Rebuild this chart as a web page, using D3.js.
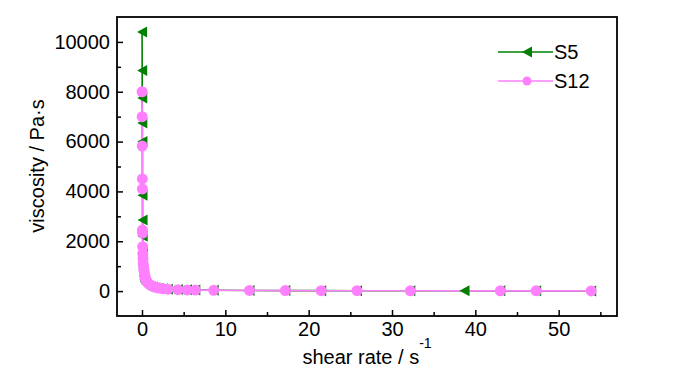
<!DOCTYPE html>
<html>
<head>
<meta charset="utf-8">
<script src="https://cdn.jsdelivr.net/npm/d3@7"></script>
<style>
  body { margin: 0; background: #fff; }
  text { font-family: "Liberation Sans", Arial, sans-serif; }
</style>
</head>
<body>
<script>
// shear rate (1/s) and viscosity (Pa·s)
var s5Rate = [0.01, 0.02, 0.03, 0.04, 0.05, 0.06, 0.07, 0.08, 0.1, 0.12, 0.15, 0.2, 0.25, 0.3, 0.4, 0.5, 0.7, 1.0, 1.3, 1.6, 2.0, 2.5, 3.1, 4.3, 5.4, 6.4, 8.6, 12.9, 17.2, 21.5, 25.8, 32.2, 38.7, 43.0, 47.3, 53.9];
var s5Visc = [10400, 8850, 7750, 6750, 6000, 3850, 2850, 2200, 1580, 1180, 840, 600, 480, 400, 330, 280, 230, 190, 160, 130, 110, 90, 78, 62, 50, 42, 34, 25, 20, 17, 15, 13, 11, 10, 9, 8];

var s12Rate = [0.01, 0.02, 0.03, 0.04, 0.05, 0.06, 0.07, 0.08, 0.1, 0.12, 0.15, 0.2, 0.25, 0.3, 0.35, 0.4, 0.5, 0.6, 0.8, 1.0, 1.3, 1.6, 2.0, 2.5, 3.1, 4.3, 5.4, 6.4, 8.6, 12.9, 17.2, 21.5, 25.8, 32.2, 43.0, 47.3, 53.9];
var s12Visc = [8000, 7000, 5820, 4500, 4100, 2450, 2330, 1780, 1500, 1300, 1100, 950, 820, 700, 600, 520, 430, 360, 290, 240, 190, 150, 120, 95, 75, 58, 48, 40, 32, 24, 19, 16, 14, 12, 10, 9, 8];

var xTicks = [0, 10, 20, 30, 40, 50];
var xMinor = [5, 15, 25, 35, 45, 55];
var yTicks = [0, 2000, 4000, 6000, 8000, 10000];
var yMinor = [1000, 3000, 5000, 7000, 9000];

var green = "#007f00", pink = "#ff80ff";

var svg = d3.select("body").append("svg")
    .attr("width", 700)
    .attr("height", 374);

var x = d3.scaleLinear().domain([-3, 57]).range([117, 617]);
var y = d3.scaleLinear().domain([-1000, 11000]).range([316, 17]);

// axes, ticks pointing inwards
svg.append("g").attr("transform", "translate(0,316)")
    .call(d3.axisBottom(x).tickValues(xTicks).tickSize(-6).tickPadding(6).tickFormat(d3.format("d")));
svg.append("g").attr("transform", "translate(0,316)")
    .call(d3.axisBottom(x).tickValues(xMinor).tickSize(-4).tickFormat(""));
svg.append("g").attr("transform", "translate(117,0)")
    .call(d3.axisLeft(y).tickValues(yTicks).tickSize(-6).tickPadding(7).tickFormat(d3.format("d")));
svg.append("g").attr("transform", "translate(117,0)")
    .call(d3.axisLeft(y).tickValues(yMinor).tickSize(-4).tickFormat(""));

svg.selectAll(".domain").remove();
svg.selectAll(".tick line").attr("stroke", "#000").attr("stroke-width", 1.5);
svg.selectAll(".tick text")
    .style("font-size", "20px")
    .attr("fill", "#000");

// frame
svg.append("rect")
    .attr("x", 117).attr("y", 17)
    .attr("width", 500).attr("height", 299)
    .attr("fill", "none")
    .attr("stroke", "#000")
    .attr("stroke-width", 1.8);

var s5 = s5Rate.map(function(d, i) { return [d, s5Visc[i]]; });
var s12 = s12Rate.map(function(d, i) { return [d, s12Visc[i]]; });

var line = d3.line()
    .x(function(d) { return x(d[0]); })
    .y(function(d) { return y(d[1]); });

svg.append("path").datum(s5).attr("d", line)
    .attr("fill", "none").attr("stroke", green).attr("stroke-width", 1.6);
svg.append("path").datum(s12).attr("d", line)
    .attr("fill", "none").attr("stroke", pink).attr("stroke-width", 1.6);

// left pointing triangle
var tri = "M-5,0L5,-5.5L5,5.5Z";

svg.selectAll(".s5").data(s5).enter()
    .append("path")
    .attr("class", "s5")
    .attr("d", tri)
    .attr("transform", function(d) { return "translate(" + x(d[0]) + "," + y(d[1]) + ")"; })
    .attr("fill", green);

svg.selectAll(".s12").data(s12).enter()
    .append("circle")
    .attr("class", "s12")
    .attr("cx", function(d) { return x(d[0]); })
    .attr("cy", function(d) { return y(d[1]); })
    .attr("r", 5.5)
    .attr("fill", pink);

// legend
var legend = svg.append("g");
legend.append("line").attr("x1", 498).attr("x2", 553).attr("y1", 52).attr("y2", 52)
    .attr("stroke", green).attr("stroke-width", 1.6);
legend.append("path").attr("d", tri).attr("transform", "translate(527,52)").attr("fill", green);
legend.append("text").attr("x", 554).attr("y", 52).attr("dy", "0.35em")
    .style("font-size", "20px").text("S5");

legend.append("line").attr("x1", 498).attr("x2", 553).attr("y1", 81).attr("y2", 81)
    .attr("stroke", pink).attr("stroke-width", 1.6);
legend.append("circle").attr("cx", 527).attr("cy", 81).attr("r", 4.5).attr("fill", pink);
legend.append("text").attr("x", 554).attr("y", 81).attr("dy", "0.35em")
    .style("font-size", "20px").text("S12");

// axis titles
var xt = svg.append("text")
    .attr("x", 367).attr("y", 364)
    .attr("text-anchor", "middle")
    .style("font-size", "20px");
xt.append("tspan").text("shear rate / s");
xt.append("tspan").attr("dy", -16).style("font-size", "14px").text("-1");

svg.append("text")
    .attr("transform", "translate(44,166) rotate(-90)")
    .attr("text-anchor", "middle")
    .style("font-size", "20px")
    .text("viscosity / Pa·s");
</script>
</body>
</html>
